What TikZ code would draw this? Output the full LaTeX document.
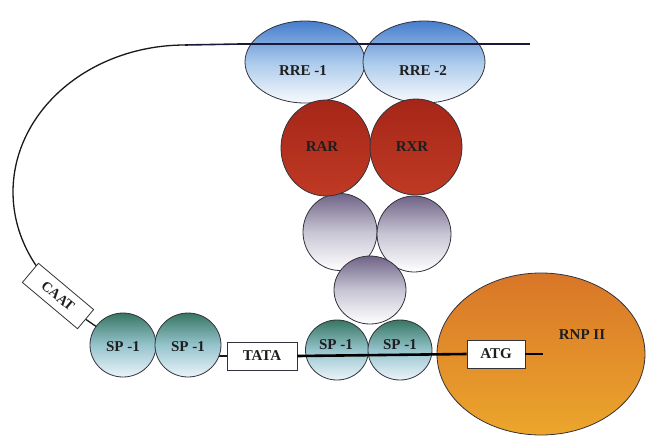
\documentclass[tikz,border=0pt]{standalone}
\usepackage{fontspec}
\setmainfont{Liberation Serif}
\usetikzlibrary{shapes.geometric,backgrounds}
\definecolor{outl}{RGB}{50,50,60}
\definecolor{rreTop}{RGB}{70,125,205}
\definecolor{rreMid}{RGB}{170,202,235}
\definecolor{rreBot}{RGB}{248,250,253}
\definecolor{redTop}{RGB}{165,38,24}
\definecolor{redBot}{RGB}{192,58,36}
\definecolor{grayTop}{RGB}{112,100,135}
\definecolor{grayMid}{RGB}{200,197,212}
\definecolor{spTop}{RGB}{55,118,98}
\definecolor{spMid}{RGB}{150,196,205}
\definecolor{spBot}{RGB}{235,244,250}
\definecolor{rnpTop}{RGB}{216,118,40}
\definecolor{rnpBot}{RGB}{236,166,44}
\definecolor{navy}{RGB}{25,25,60}
\definecolor{txt}{RGB}{30,30,30}
\begin{document}
\begin{tikzpicture}[x=1pt,y=-1pt,
  blob/.style={ellipse, draw=outl, line width=0.8pt, inner sep=0pt},
  rre/.style={blob, top color=rreTop, bottom color=rreBot, middle color=rreMid},
  redblob/.style={blob, top color=redTop, bottom color=redBot},
  grayblob/.style={blob, top color=grayTop, bottom color=white, middle color=grayMid},
  spblob/.style={blob, top color=spTop, bottom color=spBot, middle color=spMid},
  rnpblob/.style={blob, top color=rnpTop, bottom color=rnpBot},
  lbl/.style={font=\fontsize{15}{15}\selectfont\bfseries, text=txt, inner sep=0pt},
  boxlbl/.style={draw=outl, fill=white, line width=0.8pt, inner sep=0pt,
    font=\fontsize{15}{15}\selectfont\bfseries, text=txt},
  thin/.style={draw=black!90, line width=1.3pt},
  thick/.style={line width=2.6pt}]
\useasboundingbox (0,0) rectangle (646,437);

% blobs
\node[rnpblob, minimum width=208pt, minimum height=162pt] (rnp) at (541,354) {};
\node[grayblob, minimum width=74pt, minimum height=77pt] (g1) at (340,232) {};
\node[grayblob, minimum width=74pt, minimum height=76pt] (g2) at (414,234) {};
\node[grayblob, minimum width=72pt, minimum height=68pt] (g3) at (370,290) {};
\node[rre, minimum width=120pt, minimum height=82pt] (rre1) at (305,62) {};
\node[rre, minimum width=122pt, minimum height=82pt] (rre2) at (424,62) {};
\node[redblob, minimum width=90pt, minimum height=96pt] (rar) at (326,148) {};
\node[redblob, minimum width=92pt, minimum height=96pt] (rxr) at (416,147) {};
\node[spblob, minimum width=66pt, minimum height=64pt] (sp1a) at (123,345) {};
\node[spblob, minimum width=66pt, minimum height=64pt] (sp1b) at (188,345) {};
\node[spblob, minimum width=63pt, minimum height=60pt] (sp1c) at (337,350) {};
\node[spblob, minimum width=64pt, minimum height=60pt] (sp1d) at (400,350) {};

% boxes
\node[boxlbl, minimum width=70pt, minimum height=28pt] (tata) at (262,356) {TATA};
\node[boxlbl, minimum width=58pt, minimum height=28pt] (atg) at (496,354) {ATG};
\node[boxlbl, minimum width=72pt, minimum height=25pt, rotate=-40,
  font=\fontsize{14}{14}\selectfont\bfseries] (caat) at (58,296) {CAAT};

% coordinates
\coordinate (looptop) at (185,45);
\coordinate (topstart) at (240,44);
\coordinate (topend) at (530,44);
\coordinate (dnaend) at (543,354);

% DNA lines over blobs
\draw[navy, line width=1.6pt] (looptop) -- (topstart);
\draw[navy, thick] (topstart) -- (topend);
\draw[black, thick] (tata.east) -- (atg.west);
\draw[black, thick] (atg.east) -- (dnaend);

% labels
\node[lbl] (t1) at (303,71) {RRE -1};
\node[lbl] (t2) at (423,71) {RRE -2};
\node[lbl] (t3) at (322,147) {RAR};
\node[lbl] (t4) at (412,147) {RXR};
\node[lbl] (t5) at (123,347) {SP -1};
\node[lbl] (t6) at (188,347) {SP -1};
\node[lbl] (t7) at (336,345) {SP -1};
\node[lbl] (t8) at (400,345) {SP -1};
\node[lbl] (t9) at (582,335) {RNP II};

\begin{pgfonlayer}{background}
\fill[white] (0,0) rectangle (646,437);
\draw[thin] plot[domain=90:212, samples=80, smooth] ({185+172*cos(\x)}, {192-147*sin(\x)});
\draw[thin] (caat.east) -- (sp1a.center);
\draw[thin] (tata.west) -- (tata.west -| sp1b.center);
\end{pgfonlayer}
\end{tikzpicture}
\end{document}
